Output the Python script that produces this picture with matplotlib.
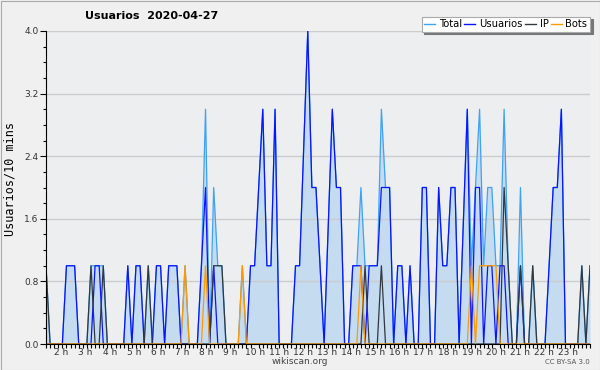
import numpy as np
import matplotlib
matplotlib.use("Agg")
import matplotlib.pyplot as plt
from matplotlib.lines import Line2D
from matplotlib.patches import Rectangle

# values per 10-minute slot
usuarios = [
    0, 0, 0, 0, 0, 1, 1, 1, 0, 0,
    0, 0, 1, 1, 0, 0, 0, 0, 0, 0,
    1, 0, 1, 1, 0, 0, 0, 1, 1, 0,
    1, 1, 1, 0, 0, 0, 0, 0, 1, 2,
    0, 1, 0, 0, 0, 0, 0, 0, 0, 0,
    1, 1, 2, 3, 1, 1, 3, 0, 0, 0,
    0, 1, 1, 2.5, 4, 2, 2, 1, 0, 1.5,
    3, 2, 2, 0, 0, 1, 1, 1, 0, 1,
    1, 1, 2, 2, 2, 0, 1, 1, 0, 1,
    0, 0, 2, 2, 0, 0, 2, 1, 1, 2,
    2, 0, 1.5, 3, 0, 2, 2, 0, 1, 1,
    0, 1, 1, 0, 0, 0, 1, 0, 0, 0,
    0, 0, 0, 1, 2, 2, 3, 0, 0, 0,
    0, 0, 0, 0,
]
ip = [
    1, 0, 0, 0, 0, 0, 0, 0, 0, 0,
    0, 1, 0, 0, 1, 0, 0, 0, 0, 0,
    0, 0, 0, 0, 0, 1, 0, 0, 0, 0,
    0, 0, 0, 0, 0, 0, 0, 0, 0, 0,
    0, 1, 1, 1, 0, 0, 0, 0, 0, 0,
    0, 0, 0, 0, 0, 0, 0, 0, 0, 0,
    0, 0, 0, 0, 0, 0, 0, 0, 0, 0,
    0, 0, 0, 0, 0, 0, 0, 0, 1, 0,
    0, 0, 1, 0, 0, 0, 0, 0, 0, 0,
    0, 0, 0, 0, 0, 0, 0, 0, 0, 0,
    0, 0, 0, 0, 0, 0, 0, 0, 0, 0,
    0, 0, 2, 1, 0, 0, 1, 0, 0, 1,
    0, 0, 0, 0, 0, 0, 0, 0, 0, 0,
    0, 1, 0, 1,
]
bots = [
    0, 0, 0, 0, 0, 0, 0, 0, 0, 0,
    0, 0, 0, 0, 0, 0, 0, 0, 0, 0,
    0, 0, 0, 0, 0, 0, 0, 0, 0, 0,
    0, 0, 0, 0, 1, 0, 0, 0, 0, 1,
    0, 0, 0, 0, 0, 0, 0, 0, 1, 0,
    0, 0, 0, 0, 0, 0, 0, 0, 0, 0,
    0, 0, 0, 0, 0, 0, 0, 0, 0, 0,
    0, 0, 0, 0, 0, 0, 0, 1, 0, 0,
    0, 0, 0, 0, 0, 0, 0, 0, 0, 0,
    0, 0, 0, 0, 0, 0, 0, 0, 0, 0,
    0, 0, 0, 0, 1, 0, 1, 1, 1, 1,
    1, 0, 0, 0, 0, 0, 0, 0, 0, 0,
    0, 0, 0, 0, 0, 0, 0, 0, 0, 0,
    0, 0, 0, 0,
]
total = [
    1, 0, 0, 0, 0, 1, 1, 1, 0, 0,
    0, 1, 1, 1, 1, 0, 0, 0, 0, 0,
    1, 0, 1, 1, 0, 1, 0, 1, 1, 0,
    1, 1, 1, 0, 1, 0, 0, 0, 1, 3,
    0, 2, 1, 1, 0, 0, 0, 0, 1, 0,
    1, 1, 2, 3, 1, 1, 3, 0, 0, 0,
    0, 1, 1, 2.5, 4, 2, 2, 1, 0, 1.5,
    3, 2, 2, 0, 0, 1, 1, 2, 1, 1,
    1, 1, 3, 2, 2, 0, 1, 1, 0, 1,
    0, 0, 2, 2, 0, 0, 2, 1, 1, 2,
    2, 0, 1.5, 3, 1, 2, 3, 1, 2, 2,
    1, 1, 3, 1, 0, 0, 2, 0, 0, 1,
    0, 0, 0, 1, 2, 2, 3, 0, 0, 0,
    0, 1, 0, 1,
]
hours = list(range(2, 24))
hour_labels = [f"{h} h" for h in hours]
series_labels = ["Total", "Usuarios", "IP", "Bots"]
series_colors = ["#3fa2f2", "#0a14ff", "#303840", "#ff9900"]

x = np.arange(len(usuarios))

fig = plt.figure(figsize=(6, 3.7), dpi=100, facecolor="#f0f0f0")
ax = fig.add_axes([46 / 600, 26 / 370, 544 / 600, 313 / 370], facecolor="#eceef0")

ax.fill_between(x, total, 0, color="#c5dcf0", lw=0, zorder=1)
for v in np.arange(0.8, 4.01, 0.8):
    ax.axhline(v, color="#cccccc", lw=1, zorder=1.5)
ax.plot(x, total, color=series_colors[0], lw=0.9, zorder=3)
ax.plot(x, usuarios, color=series_colors[1], lw=0.9, zorder=4)
ax.plot(x, ip, color=series_colors[2], lw=0.9, zorder=5)
ax.plot(x, bots, color=series_colors[3], lw=0.9, zorder=6)

ax.set_xlim(0, len(x) - 1)
ax.set_ylim(0, 4)

yt = np.arange(0, 4.01, 0.8)
ax.set_yticks(yt)
ax.set_yticklabels([f"{v:.1f}" for v in yt])
ax.set_yticks(np.arange(0, 4.01, 0.2), minor=True)
ax.tick_params(axis="y", which="major", length=4, width=0.8, labelsize=6.5,
               pad=1.5, labelcolor="#333333")
ax.tick_params(axis="y", which="minor", length=2.5, width=0.8)

ax.set_xticks(x, minor=True)
ax.set_xticks([3.8 + 5.9 * (h - 2) for h in hours])
ax.set_xticklabels(hour_labels)
ax.tick_params(axis="x", which="major", length=0, labelsize=6.5, pad=3,
               labelcolor="#333333")
ax.tick_params(axis="x", which="minor", length=3, width=0.8)

for s in ["top", "right"]:
    ax.spines[s].set_visible(False)
for s in ["left", "bottom"]:
    ax.spines[s].set_color("black")
    ax.spines[s].set_linewidth(0.8)
    ax.spines[s].set_zorder(7)

handles = [Line2D([], [], color=c, lw=1) for c in series_colors]
leg = ax.legend(handles, series_labels, loc="upper right",
                bbox_to_anchor=(590 / 600, 1 - 16.5 / 370),
                bbox_transform=fig.transFigure, ncol=4, fontsize=7.2,
                frameon=True, fancybox=False,
                shadow={"color": "#777777", "alpha": 1.0},
                borderpad=0.25, handlelength=1.1, handletextpad=0.4,
                columnspacing=0.2, borderaxespad=0)
leg.get_frame().set_edgecolor("#aaaaaa")
leg.get_frame().set_linewidth(0.8)
leg.get_frame().set_facecolor("white")
leg.set_zorder(10)

fig.text(85 / 600, 1 - 16 / 370, "Usuarios  2020-04-27", fontsize=8,
         fontweight="bold", ha="left", va="center")
fig.text(10 / 600, 1 - 179 / 370, "Usuarios/10 mins", rotation=90,
         family="DejaVu Sans Mono", fontsize=8.5, ha="center", va="center")
fig.text(300 / 600, 1 - 361 / 370, "wikiscan.org", fontsize=6.5,
         ha="center", va="center", color="#444444")
fig.text(590 / 600, 1 - 362 / 370, "CC BY-SA 3.0", fontsize=5,
         ha="right", va="center", color="#555555")

fig.add_artist(Rectangle((0.5 / 600, 0.5 / 370), 599 / 600, 369 / 370,
                         transform=fig.transFigure, fill=False,
                         edgecolor="#aaaaaa", lw=0.8))

fig.savefig("out.png", dpi=100, facecolor=fig.get_facecolor())
